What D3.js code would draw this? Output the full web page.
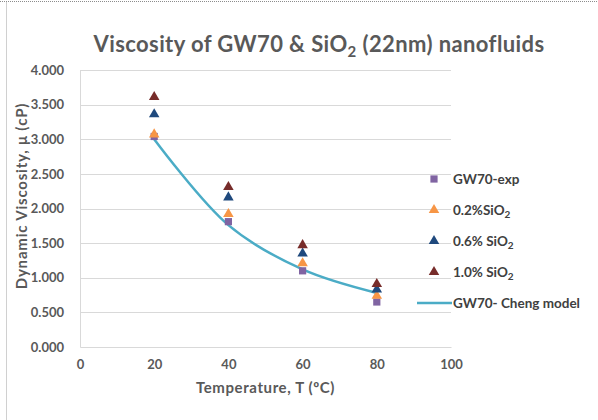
<!DOCTYPE html>
<meta charset="utf-8">
<script src="https://d3js.org/d3.v7.min.js"></script>
<style>
  body { margin: 0; background: #fff; }
  text { font-family: Lato, "Open Sans", sans-serif; }
</style>
<div id="my_dataviz"></div>
<script>
// data
var temps = [20, 40, 60, 80];
var gw70Exp = [3.04, 1.81, 1.10, 0.65];
var sio2_02 = [3.07, 1.92, 1.21, 0.74];
var sio2_06 = [3.36, 2.16, 1.35, 0.83];
var sio2_10 = [3.61, 2.31, 1.47, 0.91];
var chengModel = [3.00, 1.76, 1.12, 0.78];
var xTicks = [0, 20, 40, 60, 80, 100];
var yTicks = [0, 0.5, 1, 1.5, 2, 2.5, 3, 3.5, 4];

var W = 598, H = 420;
var margin = {top: 70, right: 147, bottom: 73, left: 80},
    width = W - margin.left - margin.right,
    height = H - margin.top - margin.bottom;

var svg = d3.select("#my_dataviz")
  .append("svg")
    .attr("width", W)
    .attr("height", H);

// outer frame bits (dotted top edge, left edge)
svg.append("line").attr("x1", 0).attr("x2", W).attr("y1", 1.5).attr("y2", 1.5)
  .attr("stroke", "#8c8c8c").attr("stroke-dasharray", "1,1");
svg.append("line").attr("x1", 6.5).attr("x2", 6.5).attr("y1", 2).attr("y2", H)
  .attr("stroke", "#d0d0d0");

var g = svg.append("g")
  .attr("transform", "translate(" + margin.left + "," + margin.top + ")");

var x = d3.scaleLinear().domain([0, 100]).range([0, width]);
var y = d3.scaleLinear().domain([0, 4]).range([height, 0]);

// gridlines
g.selectAll(".grid")
  .data(yTicks.filter(d => d > 0))
  .enter().append("line")
    .attr("x1", 0).attr("x2", width)
    .attr("y1", d => Math.round(y(d)) + 0.5).attr("y2", d => Math.round(y(d)) + 0.5)
    .attr("stroke", "#d9d9d9").attr("stroke-width", 1);

// axes
var xAxis = g.append("g")
  .attr("transform", "translate(0," + height + ")")
  .call(d3.axisBottom(x).tickValues(xTicks).tickSize(0).tickPadding(13));
var yAxis = g.append("g")
  .call(d3.axisLeft(y).tickValues(yTicks).tickSize(0).tickPadding(16).tickFormat(d3.format(".3f")));
[xAxis, yAxis].forEach(a => {
  a.select(".domain").attr("stroke", "#d9d9d9");
  a.selectAll("text").attr("fill", "#595959").style("font-size", "13px").style("font-weight", "bold")
    .style("font-family", "Lato, sans-serif");
});

// model line
var line = d3.line()
  .x((d, i) => x(temps[i]))
  .y(d => y(d))
  .curve(d3.curveCatmullRom.alpha(0.5));
g.append("path")
  .datum(chengModel)
  .attr("d", line)
  .attr("fill", "none")
  .attr("stroke", "#4bacc6")
  .attr("stroke-width", 2.5);

var series = [
  {name: "GW70-exp", values: gw70Exp, color: "#8064a2", shape: d3.symbolSquare, size: 52},
  {name: "0.2%SiO", sub: "2", values: sio2_02, color: "#f79646", shape: d3.symbolTriangle, size: 48},
  {name: "0.6% SiO", sub: "2", values: sio2_06, color: "#1f497d", shape: d3.symbolTriangle, size: 48},
  {name: "1.0% SiO", sub: "2", values: sio2_10, color: "#772c2a", shape: d3.symbolTriangle, size: 48}
];

series.forEach(s => {
  g.selectAll(null)
    .data(s.values)
    .enter().append("path")
      .attr("d", d3.symbol().type(s.shape).size(s.size))
      .attr("transform", (d, i) => "translate(" + x(temps[i]) + "," + y(d) + ")")
      .attr("fill", s.color);
});

// legend
var legend = svg.append("g").attr("transform", "translate(434,179)");
series.forEach((s, i) => {
  var row = legend.append("g").attr("transform", "translate(0," + (i * 31) + ")");
  row.append("path")
    .attr("d", d3.symbol().type(s.shape).size(s.size))
    .attr("fill", s.color);
  var t = row.append("text")
    .attr("x", 19).attr("y", 5)
    .attr("fill", "#404040")
    .style("font-size", "13.5px").style("font-weight", "bold")
    .text(s.name);
  if (s.sub) t.append("tspan").attr("dy", 3).style("font-size", "10px").text(s.sub);
});
var lrow = legend.append("g").attr("transform", "translate(0," + (4 * 31) + ")");
lrow.append("line").attr("x1", -17).attr("x2", 18).attr("y1", 0).attr("y2", 0)
  .attr("stroke", "#4bacc6").attr("stroke-width", 2.5);
lrow.append("text")
  .attr("x", 19).attr("y", 5)
  .attr("fill", "#404040")
  .style("font-size", "13.5px").style("font-weight", "bold")
  .text("GW70- Cheng model");

// title
var title = svg.append("text")
  .attr("x", 319).attr("y", 52)
  .attr("text-anchor", "middle")
  .attr("fill", "#595959")
  .style("font-size", "22px").style("font-weight", "bold")
  .style("letter-spacing", "0.4px")
  .text("Viscosity of GW70 & SiO");
title.append("tspan").attr("dy", 5).style("font-size", "15px").text("2");
title.append("tspan").attr("dy", -5).text(" (22nm) nanofluids");

// axis titles
svg.append("text")
  .attr("x", margin.left + width / 2).attr("y", 393)
  .attr("text-anchor", "middle")
  .attr("fill", "#595959")
  .style("font-size", "15px").style("font-weight", "bold")
  .style("letter-spacing", "0.6px")
  .text("Temperature, T (ºC)");

svg.append("text")
  .attr("transform", "translate(27,196) rotate(-90)")
  .attr("text-anchor", "middle")
  .attr("fill", "#595959")
  .style("font-size", "15px").style("font-weight", "bold")
  .style("letter-spacing", "0.8px")
  .text("Dynamic Viscosity, μ (cP)");
</script>
